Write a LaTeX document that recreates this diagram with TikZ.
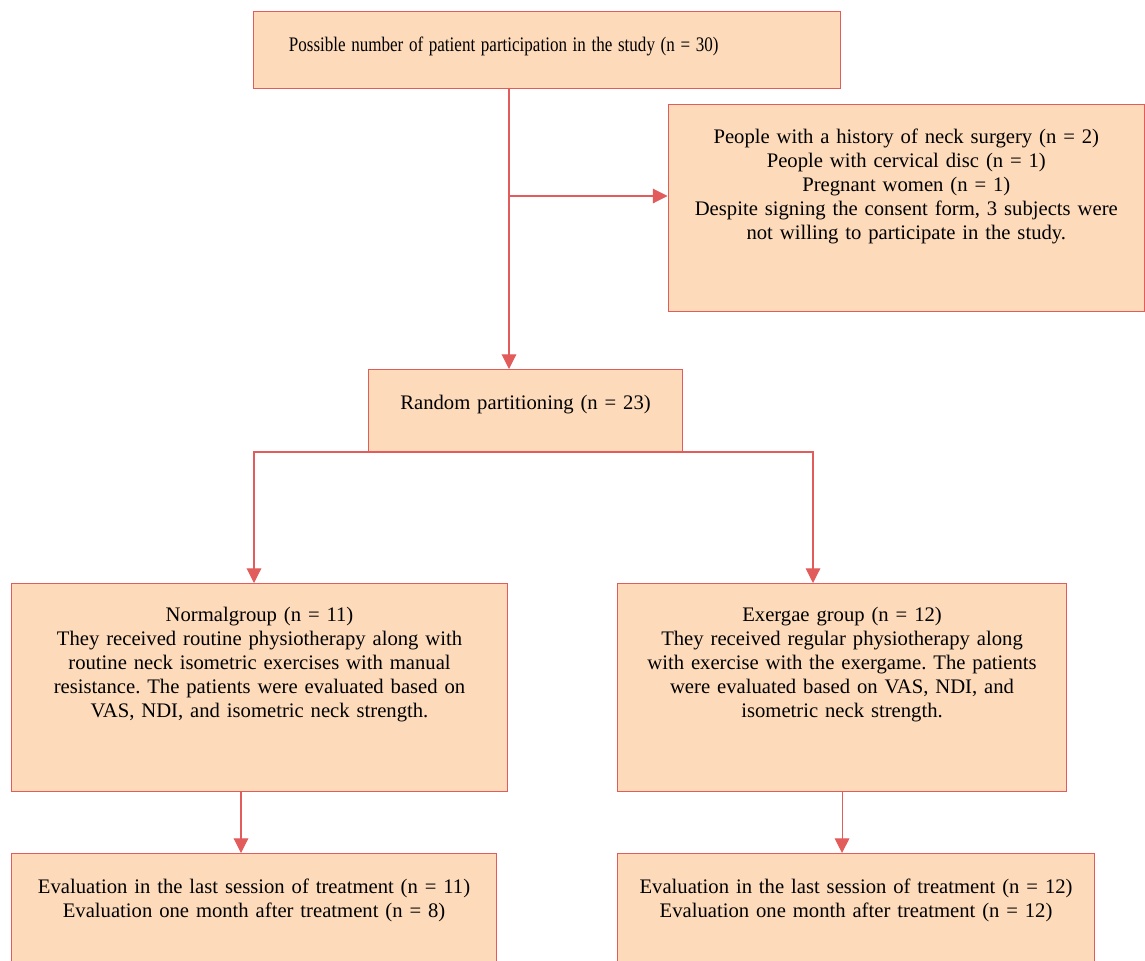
\documentclass[tikz,border=0pt]{standalone}
\usepackage{fontspec}
\setmainfont{Liberation Serif}
\usetikzlibrary{arrows.meta}
\frenchspacing
\definecolor{boxfill}{RGB}{253,218,186}
\definecolor{boxline}{RGB}{226,92,92}
\tikzset{
  flowbox/.style={draw=boxline, fill=boxfill, line width=0.8pt, align=center,
    inner sep=0pt, anchor=north west, font=\fontsize{15.5}{18}\selectfont},
  flowarrow/.style={draw=boxline, line width=0.8pt, -{Triangle[length=11pt,width=11pt]}},
}
\begin{document}
\begin{tikzpicture}[x=0.75pt,y=-0.75pt]
\clip (0,0) rectangle (1145,960);
% Enrolment and exclusion
\node[flowbox, text width=440.25pt, text height=30pt, text depth=27.75pt] (screen) at (253,11)
  {\scalebox{0.824}[1]{Possible number of patient participation in the study (n = 30)}\hspace*{65pt}\mbox{}};
\node[flowbox, text width=357.4pt, text height=29.25pt, text depth=126pt] (excl) at (667.5,104)
  {People with a history of neck surgery (n = 2)\\
   People with cervical disc (n = 1)\\
   Pregnant women (n = 1)\\
   Despite signing the consent form, 3 subjects were\\
   not willing to participate in the study.};
\node[flowbox, text width=235.5pt, text height=30pt, text depth=32.25pt] (random) at (368,369)
  {Random partitioning (n = 23)};
% Two groups
\node[flowbox, text width=372pt, text height=28.5pt, text depth=127.5pt] (normal) at (11,583)
  {Normalgroup (n = 11)\\
   They received routine physiotherapy along with\\
   routine neck isometric exercises with manual\\
   resistance. The patients were evaluated based on\\
   VAS, NDI, and isometric neck strength.};
\node[flowbox, text width=336.75pt, text height=28.5pt, text depth=127.5pt] (exer) at (617,583)
  {Exergae group (n = 12)\\
   They received regular physiotherapy along\\
   with exercise with the exergame. The patients\\
   were evaluated based on VAS, NDI, and\\
   isometric neck strength.};
% Follow-up
\node[flowbox, text width=363.75pt, text height=30pt, text depth=80pt] (evalL) at (11,853)
  {Evaluation in the last session of treatment (n = 11)\\
   Evaluation one month after treatment (n = 8)};
\node[flowbox, text width=357.75pt, text height=30pt, text depth=80pt] (evalR) at (617,853)
  {Evaluation in the last session of treatment (n = 12)\\
   Evaluation one month after treatment (n = 12)};
% Connectors
\coordinate (split) at (509,196);
\coordinate (lft) at (254,452);
\coordinate (rgt) at (813,452);
\coordinate (down) at (241,800);
\draw[flowarrow] (screen.south -| split) -- (random.north -| split);
\draw[flowarrow] (split) -- (excl.west |- split);
\draw[flowarrow, {Triangle[length=11pt,width=11pt]}-{Triangle[length=11pt,width=11pt]}]
  (normal.north -| lft) -- (lft) -- (rgt) -- (exer.north -| rgt);
\draw[flowarrow] (normal.south -| down) -- (evalL.north -| down);
\draw[flowarrow] (exer.south) -- (evalR.north -| exer.south);
\end{tikzpicture}
\end{document}
